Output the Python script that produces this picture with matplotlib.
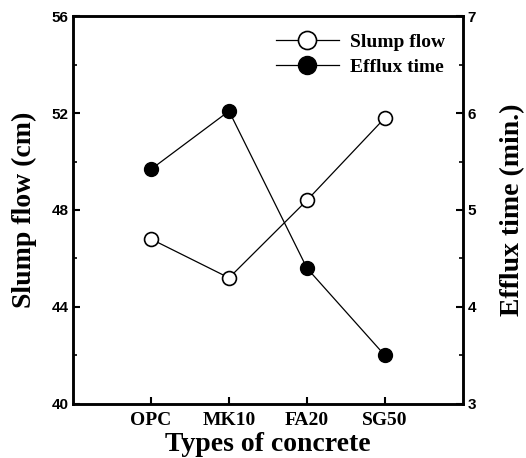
import matplotlib
matplotlib.use("Agg")
import matplotlib.pyplot as plt
from matplotlib.ticker import MultipleLocator

categories = ["OPC", "MK10", "FA20", "SG50"]
slump_flow = [46.8, 45.2, 48.4, 51.8]
efflux_time = [5.42, 6.02, 4.40, 3.50]

fig = plt.figure(figsize=(5.26, 4.58), dpi=100)
ax = fig.add_axes([0.139, 0.118, 0.741, 0.847])
ax2 = ax.twinx()

x = list(range(1, len(categories) + 1))
l1, = ax.plot(x, slump_flow, color="black", lw=0.9, marker="o", ms=10,
              mfc="white", mec="black", mew=1.2, label="Slump flow")
l2, = ax2.plot(x, efflux_time, color="black", lw=0.9, marker="o", ms=10,
               mfc="black", mec="black", label="Efflux time")

ax.set_xlim(0, 5)
ax.set_ylim(40, 56)
ax2.set_ylim(3, 7)
ax.set_xticks(x)
ax.set_xticklabels(categories, family="Liberation Serif", fontweight="bold", fontsize=14)
ax.yaxis.set_major_locator(MultipleLocator(4))
ax.yaxis.set_minor_locator(MultipleLocator(2))
ax2.yaxis.set_major_locator(MultipleLocator(1))
ax2.yaxis.set_minor_locator(MultipleLocator(0.5))

for a in (ax, ax2):
    for s in a.spines.values():
        s.set_linewidth(1.8)
    a.tick_params(direction="in", width=1.5, length=5, which="major")
    a.tick_params(direction="in", width=1.2, length=3, which="minor")
ax.tick_params(axis="x", which="major", pad=6)
for lab in ax.get_yticklabels() + ax2.get_yticklabels():
    lab.set_fontweight("bold")
    lab.set_fontsize(11)
    lab.set_family("Liberation Sans")

ax.set_xlabel("Types of concrete", family="Liberation Serif", fontweight="bold", fontsize=20, labelpad=2)
ax.set_ylabel("Slump flow (cm)", family="Liberation Serif", fontweight="bold", fontsize=20, labelpad=10)
ax2.set_ylabel("Efflux time (min.)", family="Liberation Serif", fontweight="bold", fontsize=20, labelpad=17)

leg = ax.legend([l1, l2], ["Slump flow", "Efflux time"], loc="upper right",
                frameon=False, prop={"family": "Liberation Serif", "weight": "bold", "size": 14},
                markerscale=1.3, handlelength=3.2, borderaxespad=0.5, labelspacing=0.35,
                handletextpad=0.6)

fig.savefig("out.png", dpi=100)
